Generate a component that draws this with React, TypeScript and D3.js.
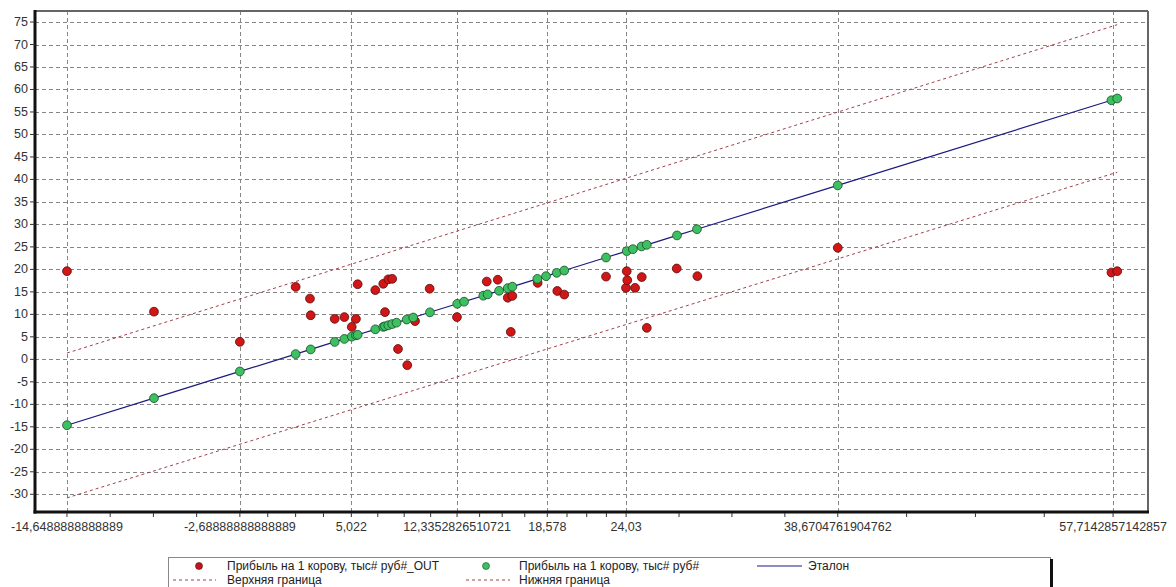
import React, { useEffect, useRef } from "react";
import * as d3 from "d3";

// x tick values (labels printed with comma decimals)
const xTickValues = [-14.6488888888889, -2.68888888888889, 5.022, 12.3352826510721, 18.578, 24.03, 38.6704761904762, 57.7142857142857];
const yTickValues = d3.range(-30, 76, 5);

// "_OUT" series (red)
const outX = [-14.649, -8.63, -2.689, 1.17, 2.16, 2.21, 3.87, 4.54, 5.05, 5.34, 5.46, 6.68, 7.23, 7.35, 7.58, 7.85, 8.25, 8.89, 9.43, 10.44, 12.33, 14.39, 15.15, 15.84, 16.05, 16.16, 17.91, 19.27, 19.75, 22.64, 24.02, 24.07, 24.11, 24.65, 25.11, 25.46, 27.53, 28.96, 38.67, 57.6, 58.0];
const outY = [19.6, 10.6, 3.9, 16.1, 13.5, 9.8, 9.0, 9.4, 7.2, 9.0, 16.7, 15.4, 16.8, 10.5, 17.8, 17.9, 2.3, -1.3, 8.5, 15.7, 9.4, 17.3, 17.7, 13.7, 6.1, 14.1, 17.0, 15.2, 14.4, 18.4, 15.9, 19.6, 17.6, 15.9, 18.3, 7.0, 20.2, 18.5, 24.8, 19.3, 19.6];

// model series (green), lies on the etalon line y = x
const greenX = [-14.649, -8.63, -2.689, 1.17, 2.21, 3.87, 4.54, 5.05, 5.34, 5.46, 6.68, 7.23, 7.35, 7.58, 7.85, 8.15, 8.85, 9.3, 10.46, 12.35, 12.82, 14.15, 14.45, 15.24, 15.84, 16.16, 17.89, 18.49, 19.23, 19.75, 22.64, 24.07, 24.5, 25.1, 25.46, 27.55, 28.93, 38.67, 57.6, 58.0];

// confidence bounds (end points)
const boundX = [-14.649, 58.0];
const upperY = [1.4, 74.4];
const lowerY = [-30.8, 41.6];

const legendRow1 = ["Прибыль на 1 корову, тыс# руб#_OUT", "Прибыль на 1 корову, тыс# руб#", "Эталон"];
const legendRow2 = ["Верхняя граница", "Нижняя граница"];

const W = 1176;
const H = 587;
const FONT = "'Liberation Sans', Arial, sans-serif";

export default function App() {
  const svgRef = useRef<SVGSVGElement>(null);

  useEffect(() => {
    const svg = d3.select(svgRef.current);
    svg.selectAll("*").remove();

    const left = 35, right = 1148, top = 11, bottom = 512;

    const x = d3.scaleLinear().domain([-16.86, 60.13]).range([left, right]);
    const y = d3.scaleLinear().domain([-33.94, 77.45]).range([bottom, top]);

    svg.append("rect").attr("width", W).attr("height", H).attr("fill", "#fff");

    const grid = svg.append("g");
    // horizontal grid
    yTickValues.forEach(v => {
      grid.append("line")
        .attr("x1", left).attr("x2", right)
        .attr("y1", Math.round(y(v)) + 0.5).attr("y2", Math.round(y(v)) + 0.5)
        .attr("stroke", "#858585").attr("stroke-width", 1)
        .attr("stroke-dasharray", "4,3");
    });
    // vertical grid
    xTickValues.forEach(v => {
      grid.append("line")
        .attr("x1", Math.round(x(v)) + 0.5).attr("x2", Math.round(x(v)) + 0.5)
        .attr("y1", top).attr("y2", bottom)
        .attr("stroke", "#858585").attr("stroke-width", 1)
        .attr("stroke-dasharray", "4,3");
    });

    // bounds
    const line = d3.line<[number, number]>().x(d => x(d[0])).y(d => y(d[1]));
    [upperY, lowerY].forEach(arr => {
      svg.append("path")
        .datum(boundX.map((bx, i) => [bx, arr[i]] as [number, number]))
        .attr("fill", "none")
        .attr("stroke", "#a0404a")
        .attr("stroke-width", 1)
        .attr("stroke-dasharray", "3,3")
        .attr("d", line);
    });

    // etalon line
    const sortedGreen = [...greenX].sort((a, b) => a - b);
    svg.append("path")
      .datum(sortedGreen.map(v => [v, v] as [number, number]))
      .attr("fill", "none")
      .attr("stroke", "#1a1a80")
      .attr("stroke-width", 1.2)
      .attr("d", line);

    // red points
    svg.append("g").selectAll("circle")
      .data(outX.map((v, i) => [v, outY[i]]))
      .join("circle")
      .attr("cx", d => x(d[0]))
      .attr("cy", d => y(d[1]))
      .attr("r", 4.4)
      .attr("fill", "#d01616")
      .attr("stroke", "#5a0a0a")
      .attr("stroke-width", 0.8);

    // green points
    svg.append("g").selectAll("circle")
      .data(greenX)
      .join("circle")
      .attr("cx", d => x(d))
      .attr("cy", d => y(d))
      .attr("r", 4.4)
      .attr("fill", "#3cc060")
      .attr("stroke", "#1c4a2a")
      .attr("stroke-width", 0.8);

    // frame
    svg.append("line").attr("x1", left).attr("x2", right).attr("y1", top).attr("y2", top)
      .attr("stroke", "#666").attr("stroke-width", 2);
    svg.append("line").attr("x1", right).attr("x2", right).attr("y1", top).attr("y2", bottom)
      .attr("stroke", "#666").attr("stroke-width", 2);
    svg.append("line").attr("x1", left).attr("x2", left).attr("y1", top - 1).attr("y2", bottom + 1.5)
      .attr("stroke", "#111").attr("stroke-width", 3);
    svg.append("line").attr("x1", left - 1.5).attr("x2", right + 1).attr("y1", bottom).attr("y2", bottom)
      .attr("stroke", "#111").attr("stroke-width", 3);

    // y ticks + labels
    yTickValues.forEach(v => {
      svg.append("line")
        .attr("x1", left - 5).attr("x2", left)
        .attr("y1", y(v)).attr("y2", y(v))
        .attr("stroke", "#333").attr("stroke-width", 1);
      svg.append("text")
        .attr("x", 28).attr("y", y(v))
        .attr("text-anchor", "end")
        .attr("dominant-baseline", "central")
        .attr("font-family", FONT).attr("font-size", 12.5)
        .attr("fill", "#333")
        .text(String(v));
    });

    // x ticks (major + quarter minors) + labels
    const minors: number[] = [];
    for (let i = 0; i < xTickValues.length - 1; i++) {
      const a = xTickValues[i], b = xTickValues[i + 1];
      for (let k = 1; k < 4; k++) minors.push(a + (b - a) * k / 4);
    }
    [...xTickValues, ...minors].forEach(v => {
      svg.append("line")
        .attr("x1", x(v)).attr("x2", x(v))
        .attr("y1", bottom + 1).attr("y2", bottom + 5)
        .attr("stroke", "#333").attr("stroke-width", 1);
    });
    xTickValues.forEach(v => {
      svg.append("text")
        .attr("x", x(v)).attr("y", 527)
        .attr("text-anchor", "middle")
        .attr("dominant-baseline", "central")
        .attr("font-family", FONT).attr("font-size", 12.5)
        .attr("fill", "#333")
        .text(String(v).replace(".", ","));
    });

    // legend
    const lg = svg.append("g");
    lg.append("rect")
      .attr("x", 168.5).attr("y", 557.5).attr("width", 882).attr("height", 40)
      .attr("fill", "#fff").attr("stroke", "#888").attr("stroke-width", 1);
    lg.append("line").attr("x1", 1051.5).attr("x2", 1051.5).attr("y1", 559).attr("y2", H)
      .attr("stroke", "#111").attr("stroke-width", 3);

    const r1 = 566, r2 = 580;
    const txt = (tx: number, ty: number, s: string) =>
      lg.append("text").attr("x", tx).attr("y", ty)
        .attr("dominant-baseline", "central")
        .attr("font-family", FONT).attr("font-size", 12)
        .attr("fill", "#222").text(s);

    lg.append("circle").attr("cx", 199).attr("cy", r1).attr("r", 3.5)
      .attr("fill", "#c0141c").attr("stroke", "#5a0a0a").attr("stroke-width", 0.6);
    txt(227, r1, legendRow1[0]);
    lg.append("circle").attr("cx", 486).attr("cy", r1).attr("r", 3.5)
      .attr("fill", "#3cc060").attr("stroke", "#1c4a2a").attr("stroke-width", 0.6);
    txt(519, r1, legendRow1[1]);
    lg.append("line").attr("x1", 757).attr("x2", 802).attr("y1", r1).attr("y2", r1)
      .attr("stroke", "#1a1a80").attr("stroke-width", 1.2);
    txt(808, r1, legendRow1[2]);

    lg.append("line").attr("x1", 173).attr("x2", 216).attr("y1", r2).attr("y2", r2)
      .attr("stroke", "#a0404a").attr("stroke-width", 1).attr("stroke-dasharray", "3,3");
    txt(227, r2, legendRow2[0]);
    lg.append("line").attr("x1", 466).attr("x2", 510).attr("y1", r2).attr("y2", r2)
      .attr("stroke", "#a0404a").attr("stroke-width", 1).attr("stroke-dasharray", "3,3");
    txt(519, r2, legendRow2[1]);
  }, []);

  return (
    <div style={{ position: "absolute", left: 0, top: 0 }}>
      <svg ref={svgRef} width={W} height={H} style={{ display: "block" }} />
    </div>
  );
}
